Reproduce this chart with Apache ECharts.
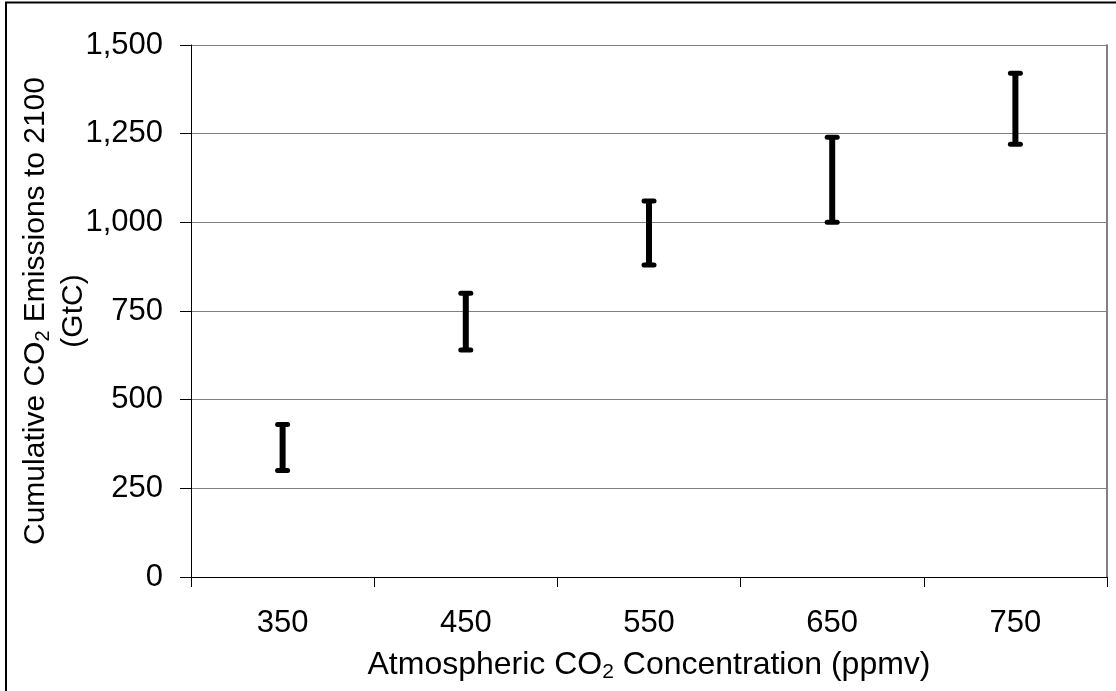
<!DOCTYPE html>
<html>
<head>
<meta charset="utf-8">
<script src="https://cdn.jsdelivr.net/npm/echarts@6/dist/echarts.min.js"></script>
<style>
  html, body { margin: 0; padding: 0; background: #fff; }
  #chart { width: 1116px; height: 691px; }
</style>
</head>
<body>
<div id="chart"></div>
<script>
// Stabilisation concentration (ppmv) and the range of cumulative emissions (GtC)
const categories = ['350', '450', '550', '650', '750'];
const lowValues = [300, 640, 880, 1000, 1220];
const highValues = [430, 800, 1060, 1240, 1420];

const FONT = '"Liberation Sans", Arial, sans-serif';

const rangeData = categories.map((c, i) => [i, lowValues[i], highValues[i]]);

const chart = echarts.init(document.getElementById('chart'), null, { renderer: 'canvas' });

const xRich = {
  n: { fontSize: 32, fontFamily: FONT, color: '#000', lineHeight: 36 },
  sub: { fontSize: 21, fontFamily: FONT, color: '#000', lineHeight: 19, verticalAlign: 'bottom' }
};
const yRich = {
  n: { fontSize: 30, fontFamily: FONT, color: '#000', lineHeight: 34 },
  sub: { fontSize: 20, fontFamily: FONT, color: '#000', lineHeight: 18, verticalAlign: 'bottom' }
};

// Plot centre along y, used to centre the rotated axis title
const plotMidY = 45 + (691 - 45 - 114) / 2;

chart.setOption({
  backgroundColor: '#fff',
  animation: false,
  graphic: [{
    type: 'rect',
    silent: true,
    shape: { x: 6, y: 2.5, width: 1300, height: 900 },
    style: { fill: 'none', stroke: '#000', lineWidth: 2 }
  }, {
    type: 'text',
    silent: true,
    x: 36, y: plotMidY,
    rotation: Math.PI / 2,
    style: {
      text: '{n|Cumulative CO}{sub|2}{n| Emissions to 2100}',
      rich: yRich, align: 'center', verticalAlign: 'middle'
    }
  }, {
    type: 'text',
    silent: true,
    x: 74, y: plotMidY,
    rotation: Math.PI / 2,
    style: {
      text: '(GtC)', fontSize: 30, fontFamily: FONT, fill: '#000',
      align: 'center', verticalAlign: 'middle'
    }
  }],
  grid: { left: 191, right: 9, top: 45, bottom: 114, containLabel: false },
  xAxis: {
    type: 'category',
    data: categories,
    boundaryGap: true,
    axisLine: { show: true, lineStyle: { color: '#000', width: 1 } },
    axisTick: { show: true, length: 10, lineStyle: { color: '#000', width: 1 } },
    axisLabel: { margin: 31, fontSize: 31, fontFamily: FONT, color: '#000' },
    splitLine: { show: false },
    name: '{n|Atmospheric CO}{sub|2}{n| Concentration (ppmv)}',
    nameLocation: 'middle',
    nameGap: 70,
    nameTextStyle: { rich: xRich }
  },
  yAxis: [{
    type: 'value',
    min: 0,
    max: 1500,
    interval: 250,
    axisLine: { show: true, lineStyle: { color: '#000', width: 1 } },
    axisTick: { show: true, length: 11, lineStyle: { color: '#000', width: 1 } },
    axisLabel: {
      margin: 28, fontSize: 31, fontFamily: FONT, color: '#000',
      formatter: v => v.toLocaleString('en-US')
    },
    splitLine: { show: true, lineStyle: { color: '#808080', width: 1 } }
  }, {
    type: 'value',
    position: 'right',
    min: 0,
    max: 1500,
    interval: 250,
    axisLine: { show: true, lineStyle: { color: '#808080', width: 2 } },
    axisTick: { show: false },
    axisLabel: { show: false },
    splitLine: { show: false }
  }],
  series: [{
    type: 'custom',
    name: 'Range',
    data: rangeData,
    encode: { x: 0, y: [1, 2] },
    renderItem: function (params, api) {
      const idx = api.value(0);
      const top = api.coord([idx, api.value(2)]);
      const bot = api.coord([idx, api.value(1)]);
      const half = 5;
      const capStyle = { stroke: '#000', lineWidth: 5, lineCap: 'round' };
      return {
        type: 'group',
        children: [
          { type: 'line', shape: { x1: top[0], y1: top[1], x2: bot[0], y2: bot[1] },
            style: { stroke: '#000', lineWidth: 6 } },
          { type: 'line', shape: { x1: top[0] - half, y1: top[1], x2: top[0] + half, y2: top[1] },
            style: capStyle },
          { type: 'line', shape: { x1: bot[0] - half, y1: bot[1], x2: bot[0] + half, y2: bot[1] },
            style: capStyle }
        ]
      };
    }
  }]
});
</script>
</body>
</html>
